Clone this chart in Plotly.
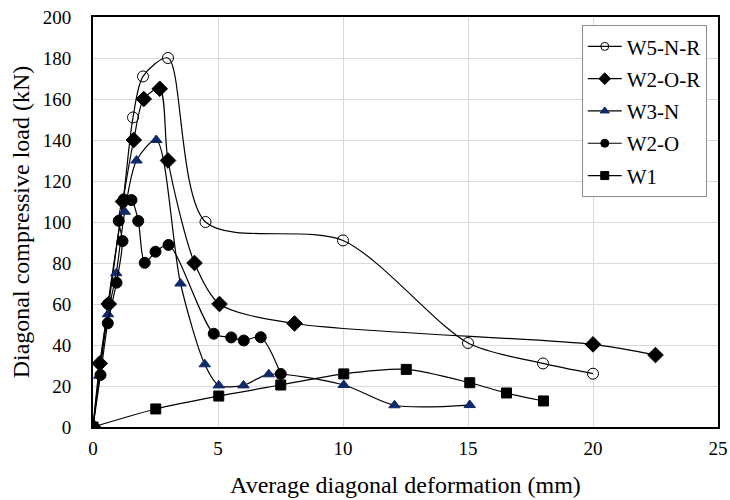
import plotly.graph_objects as go

# W5-N-R (open circles)
w5nr_x = [0, 0.6, 1.2, 1.6, 2.0, 3.0, 4.5, 10, 15, 18, 20]
w5nr_y = [0, 60, 110, 151, 171, 180, 100, 91, 41, 31, 26]
# W2-O-R (diamonds)
w2or_x = [0, 0.27, 0.63, 1.2, 1.63, 2.03, 2.67, 3.0, 4.06, 5.06, 8.06, 20, 22.5]
w2or_y = [0, 31, 60, 110, 140, 160, 165, 130, 80, 60, 50.5, 40.3, 35.1]
# W3-N (triangles)
w3n_x = [0, 0.25, 0.6, 0.93, 1.27, 1.74, 2.53, 3.5, 4.47, 5.03, 6.02, 7.03, 10.03, 12.06, 15.07]
w3n_y = [0, 25, 55, 75, 105, 130, 140, 70, 30.6, 20.3, 20.3, 25.7, 20.5, 10.6, 10.7]
# W2-O (filled circles)
w2o_x = [0, 0.3, 0.59, 0.94, 1.18, 1.03, 1.23, 1.54, 1.81, 2.07, 2.5, 3.02, 4.83, 5.53, 6.03, 6.71, 7.51]
w2o_y = [0, 25.4, 50.6, 70.4, 90.7, 100.6, 111, 110.7, 100.5, 80.1, 85.5, 88.8, 45.5, 43.7, 42.2, 43.8, 25.9]
# W1 (squares)
w1_x = [0, 2.51, 5.03, 7.51, 10.03, 12.53, 15.07, 16.54, 18.02]
w1_y = [0, 8.8, 15.1, 20.5, 25.9, 28.1, 21.6, 16.6, 12.7]

x_ticks = [0, 5, 10, 15, 20, 25]
y_ticks = [0, 20, 40, 60, 80, 100, 120, 140, 160, 180, 200]

FONT = "Liberation Serif, Times New Roman, serif"
NAVY = "#0F2A6B"

series = [
    ("W5-N-R", w5nr_x, w5nr_y, "circle-open", 11, 8, "black"),
    ("W2-O-R", w2or_x, w2or_y, "diamond", 12, 9, "black"),
    ("W3-N", w3n_x, w3n_y, "triangle-up", 10, 8, NAVY),
    ("W2-O", w2o_x, w2o_y, "circle", 11, 8, "black"),
    ("W1", w1_x, w1_y, "square", 10, 8, "black"),
]

fig = go.Figure()
for name, xs, ys, sym, size, lsize, col in series:
    mk = dict(symbol=sym, size=size, color=col, line=dict(width=1, color=col))
    fig.add_trace(go.Scatter(
        x=xs, y=ys, name=name, mode="lines+markers", showlegend=False,
        line=dict(color="black", width=1.2, shape="spline", smoothing=0.8),
        marker=mk, legendgroup=name,
    ))
for name, xs, ys, sym, size, lsize, col in series:
    fig.add_trace(go.Scatter(
        x=[None], y=[None], name=name, mode="lines+markers", showlegend=True,
        line=dict(color="black", width=1.2),
        marker=dict(symbol=sym, size=lsize, color=col, line=dict(width=1, color=col)),
        legendgroup=name,
    ))

fig.update_layout(
    width=730, height=500,
    margin=dict(l=93, r=12, t=17, b=73),
    paper_bgcolor="white", plot_bgcolor="white",
    font=dict(family=FONT, size=19, color="black"),
    showlegend=True,
    legend=dict(
        x=0.782, y=0.98, xanchor="left", yanchor="top",
        bgcolor="white", bordercolor="#8C8C8C", borderwidth=1,
        font=dict(family=FONT, size=21, color="black"),
        tracegroupgap=2, itemwidth=34,
    ),
    xaxis=dict(
        range=[0, 25], tickvals=x_ticks, ticktext=[str(v) for v in x_ticks],
        showgrid=True, gridcolor="#D9D9D9", gridwidth=1,
        showline=True, linecolor="black", linewidth=2, mirror=True,
        ticks="", zeroline=False, automargin=False, ticklabelstandoff=3,
        ticklabeloverflow="allow",
        title=dict(text="Average diagonal deformation (mm)", font=dict(family=FONT, size=24), standoff=18),
        tickfont=dict(family=FONT, size=19),
    ),
    yaxis=dict(
        range=[0, 200], tickvals=y_ticks, ticktext=[str(v) for v in y_ticks],
        showgrid=True, gridcolor="#D9D9D9", gridwidth=1,
        showline=True, linecolor="black", linewidth=2, mirror=True,
        ticks="", zeroline=False, automargin=False, ticklabelstandoff=16,
        ticklabeloverflow="allow",
        title=dict(text="Diagonal compressive load (kN)", font=dict(family=FONT, size=24), standoff=6),
        tickfont=dict(family=FONT, size=19),
    ),
)

fig.write_html(
    "out.html",
    config={"displayModeBar": False},
    post_script="document.body.style.margin='0';document.body.style.overflow='hidden';",
)
